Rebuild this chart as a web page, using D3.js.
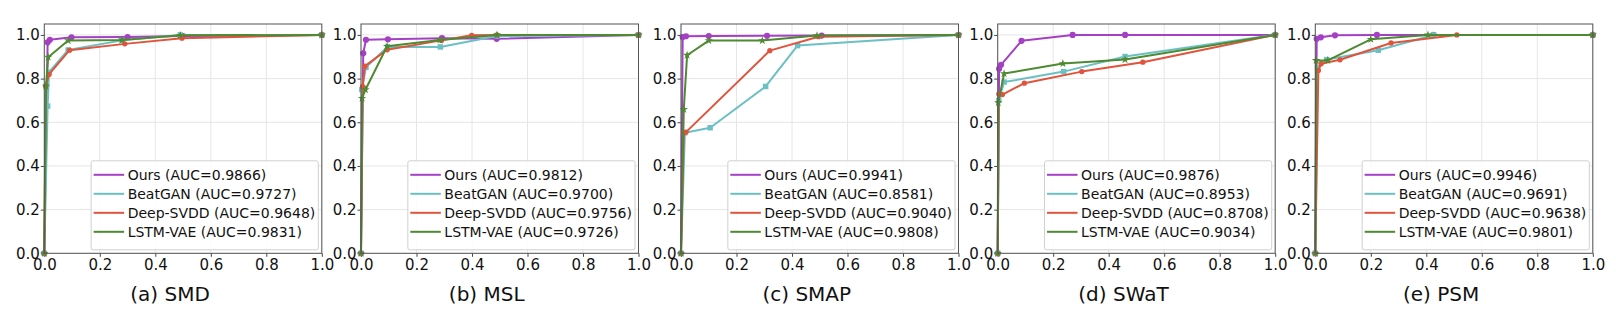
<!DOCTYPE html>
<html>
<head>
<meta charset="utf-8">
<script src="https://cdn.jsdelivr.net/npm/d3@7"></script>
<style>
  body { margin: 0; background: #fff; }
  svg text { font-family: "DejaVu Sans", sans-serif; fill: #111; }
</style>
</head>
<body>
<div id="chart-area"></div>
<script>
// dataset captions and method names
var titles = ["(a) SMD", "(b) MSL", "(c) SMAP", "(d) SWaT", "(e) PSM"];
var methods = ["Ours", "BeatGAN", "Deep-SVDD", "LSTM-VAE"];
var colors = ["#a53fc6", "#6cc0c3", "#e0533c", "#4d8a31"];
var ticks = [0, 0.2, 0.4, 0.6, 0.8, 1.0];

// AUC per dataset, in the order of methods
var aucSMD  = [0.9866, 0.9727, 0.9648, 0.9831];
var aucMSL  = [0.9812, 0.9700, 0.9756, 0.9726];
var aucSMAP = [0.9941, 0.8581, 0.9040, 0.9808];
var aucSWaT = [0.9876, 0.8953, 0.8708, 0.9034];
var aucPSM  = [0.9946, 0.9691, 0.9638, 0.9801];

// ROC points [FPR, TPR], one list per method
var rocSMD = [
  [[0,0],[0.012,0.966],[0.02,0.978],[0.098,0.989],[0.30,0.99],[0.5,0.995],[1,1]],
  [[0,0],[0.012,0.674],[0.017,0.829],[0.086,0.931],[0.28,0.975],[0.49,1.0],[1,1]],
  [[0,0],[0.005,0.765],[0.017,0.819],[0.091,0.93],[0.29,0.959],[0.496,0.985],[1,1]],
  [[0,0],[0.006,0.765],[0.014,0.898],[0.086,0.974],[0.28,0.977],[0.49,0.998],[1,1]]
];
var rocMSL = [
  [[0,0],[0.008,0.916],[0.018,0.978],[0.097,0.98],[0.292,0.985],[0.489,0.982],[1,1]],
  [[0,0],[0.003,0.75],[0.018,0.852],[0.096,0.946],[0.286,0.945],[0.49,0.995],[1,1]],
  [[0,0],[0.006,0.764],[0.014,0.857],[0.094,0.932],[0.29,0.975],[0.399,0.998],[0.49,1.0],[1,1]],
  [[0,0],[0.004,0.71],[0.016,0.749],[0.094,0.948],[0.284,0.977],[0.49,1.0],[1,1]]
];
var rocSMAP = [
  [[0,0],[0.006,0.99],[0.018,0.994],[0.1,0.995],[0.31,0.996],[0.507,0.997],[1,1]],
  [[0,0],[0.014,0.552],[0.105,0.575],[0.305,0.764],[0.42,0.951],[1,1]],
  [[0,0],[0.01,0.551],[0.018,0.555],[0.32,0.928],[0.495,0.992],[1,1]],
  [[0,0],[0.01,0.659],[0.022,0.907],[0.1,0.974],[0.293,0.974],[0.49,0.997],[1,1]]
];
var rocSWaT = [
  [[0,0],[0.005,0.845],[0.012,0.863],[0.086,0.973],[0.27,1.0],[0.459,1.0],[1,1]],
  [[0,0],[0.004,0.70],[0.023,0.784],[0.238,0.832],[0.459,0.901],[1,1]],
  [[0,0],[0.004,0.73],[0.017,0.727],[0.096,0.779],[0.303,0.832],[0.523,0.875],[1,1]],
  [[0,0],[0.002,0.69],[0.023,0.823],[0.235,0.869],[0.459,0.887],[1,1]]
];
var rocPSM = [
  [[0,0],[0.005,0.982],[0.02,0.989],[0.071,0.998],[0.222,1.0],[0.426,1.0],[1,1]],
  [[0,0],[0.008,0.85],[0.041,0.887],[0.227,0.93],[0.426,1.0],[1,1]],
  [[0,0],[0.011,0.837],[0.021,0.868],[0.089,0.886],[0.273,0.963],[0.51,1.0],[1,1]],
  [[0,0],[0.003,0.883],[0.045,0.883],[0.2,0.98],[0.406,1.0],[1,1]]
];

var panels = [
  {title: titles[0], auc: aucSMD,  roc: rocSMD,  left: 44.3},
  {title: titles[1], auc: aucMSL,  roc: rocMSL,  left: 361},
  {title: titles[2], auc: aucSMAP, roc: rocSMAP, left: 681},
  {title: titles[3], auc: aucSWaT, roc: rocSWaT, left: 997.7},
  {title: titles[4], auc: aucPSM,  roc: rocPSM,  left: 1315.3}
];

var plotW = 277.5, plotTop = 24, plotBottom = 253.3;
var symbols = [
  d3.symbol().type(d3.symbolCircle).size(30),
  d3.symbol().type(d3.symbolSquare).size(30),
  d3.symbol().type(d3.symbolCircle).size(22),
  d3.symbol().type(d3.symbolStar).size(22)
];

var svg = d3.select("#chart-area").append("svg")
  .attr("width", 1616)
  .attr("height", 322);

panels.forEach(function(p) {
  var x = d3.scaleLinear().domain([0, 1]).range([p.left, p.left + plotW]);
  var y = d3.scaleLinear().domain([0, 1.05]).range([plotBottom, plotTop]);
  var g = svg.append("g");

  // grid
  g.selectAll(".gx").data(ticks).enter().append("line")
    .attr("x1", function(d) { return x(d); }).attr("x2", function(d) { return x(d); })
    .attr("y1", plotTop).attr("y2", plotBottom)
    .attr("stroke", "#e6e6e6").attr("stroke-width", 1);
  g.selectAll(".gy").data(ticks).enter().append("line")
    .attr("y1", function(d) { return y(d); }).attr("y2", function(d) { return y(d); })
    .attr("x1", x(0)).attr("x2", x(1))
    .attr("stroke", "#e6e6e6").attr("stroke-width", 1);

  // axes
  var xAxis = g.append("g").attr("transform", "translate(0," + plotBottom + ")")
    .call(d3.axisBottom(x).tickValues(ticks).tickFormat(d3.format(".1f")).tickSize(3.5).tickPadding(3));
  var yAxis = g.append("g").attr("transform", "translate(" + p.left + ",0)")
    .call(d3.axisLeft(y).tickValues(ticks).tickFormat(d3.format(".1f")).tickSize(3.5).tickPadding(1));
  [xAxis, yAxis].forEach(function(a) {
    a.select(".domain").remove();
    a.selectAll("line").attr("stroke", "#444");
    a.selectAll("text").style("font-size", "15px").attr("fill", "#111");
  });

  // curves
  var line = d3.line().x(function(d) { return x(d[0]); }).y(function(d) { return y(d[1]); });
  p.roc.forEach(function(pts, i) {
    g.append("path").datum(pts)
      .attr("d", line)
      .attr("fill", "none")
      .attr("stroke", colors[i])
      .attr("stroke-width", 2)
      .attr("stroke-linejoin", "round");
    g.selectAll(".m" + i).data(pts).enter().append("path")
      .attr("d", symbols[i])
      .attr("transform", function(d) { return "translate(" + x(d[0]) + "," + y(d[1]) + ")"; })
      .attr("fill", colors[i]);
  });

  // frame
  g.append("rect")
    .attr("x", x(0)).attr("y", plotTop)
    .attr("width", plotW).attr("height", plotBottom - plotTop)
    .attr("fill", "none").attr("stroke", "#555").attr("stroke-width", 1);

  // legend
  var lg = g.append("g");
  var box = lg.append("rect")
    .attr("fill", "#fff").attr("fill-opacity", 0.85)
    .attr("stroke", "#d0d0d0").attr("stroke-width", 1).attr("rx", 2);
  var maxW = 0;
  methods.forEach(function(m, i) {
    var t = lg.append("text")
      .attr("x", 36.5).attr("y", 14 + i * 19)
      .attr("dy", "0.35em")
      .style("font-size", "14px")
      .text(m + " (AUC=" + d3.format(".4f")(p.auc[i]) + ")");
    maxW = Math.max(maxW, t.node().getComputedTextLength());
    lg.append("line")
      .attr("x1", 2.5).attr("x2", 33)
      .attr("y1", 14 + i * 19).attr("y2", 14 + i * 19)
      .attr("stroke", colors[i]).attr("stroke-width", 2);
  });
  var bw = 36.5 + maxW + 3, bh = 89;
  box.attr("width", bw).attr("height", bh);
  lg.attr("transform", "translate(" + (x(1) - 3.5 - bw) + "," + (plotBottom - 3.5 - bh) + ")");

  // caption
  g.append("text")
    .attr("x", x(0.5) - 13).attr("y", 301)
    .attr("text-anchor", "middle")
    .style("font-size", "20px")
    .text(p.title);
});
</script>
</body>
</html>
